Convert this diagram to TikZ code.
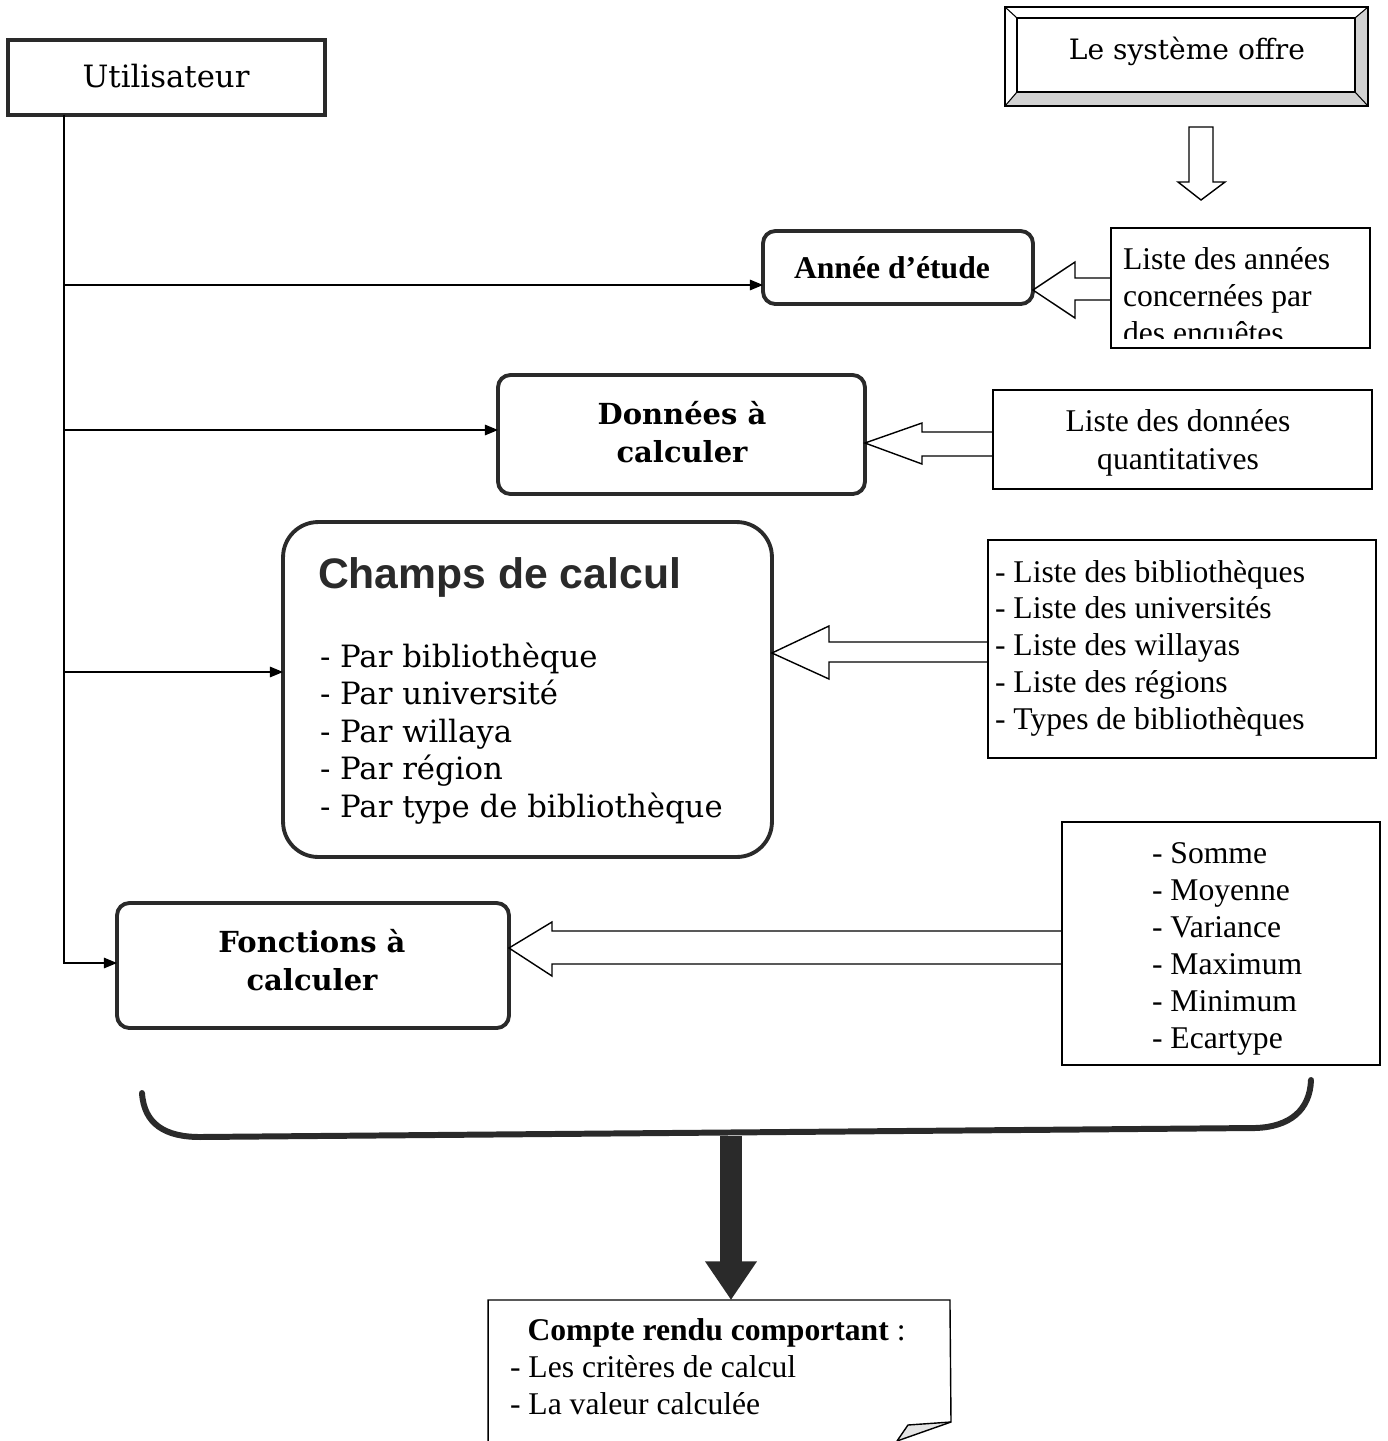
\documentclass[tikz,border=0pt]{standalone}
\usepackage{fontspec}
\setmainfont{Liberation Serif}
\newfontfamily\bkfont{DejaVu Serif}
\newfontfamily\arfont{Liberation Sans}
\usetikzlibrary{arrows.meta,calc}
\definecolor{ink}{HTML}{2A2A2A}
\definecolor{bevel}{HTML}{D2D2D2}

\begin{document}
\begin{tikzpicture}[x=0.02cm,y=-0.02cm,
  every node/.style={inner sep=0pt, outer sep=0pt},
  thickbox/.style={draw=ink, line width=2.2pt, rounded corners=7pt},
  listbox/.style={draw=black, line width=0.8pt},
  conn/.style={draw=black, line width=0.8pt, -{Triangle[length=7.5pt,width=6pt]}},
  hollow/.style={draw=black, line width=0.8pt, line join=miter},
  tm/.style={font=\fontsize{18}{21}\selectfont},
  tmb/.style={font=\bfseries\fontsize{18}{21}\selectfont},
  bk/.style={font=\bkfont\fontsize{17.5}{21.3}\selectfont},
  bkb/.style={font=\bkfont\bfseries\fontsize{16.5}{21.6}\selectfont},
]
\useasboundingbox (0,0) rectangle (1388,1441);

% ---- user box
\node[draw=ink, line width=2.6pt, minimum width=6.34cm, minimum height=1.5cm] (user) at (166.5,77.5) {};
\node[bk] (usertxt) at (166,76) {Utilisateur};

% ---- bevelled system box
\fill[bevel] (1005,106) -- (1017,92) -- (1355,92) -- (1368,106) -- cycle;
\fill[bevel] (1355,92) -- (1355,18) -- (1368,7) -- (1368,106) -- cycle;
\node[draw=black, line width=0.8pt, minimum width=6.76cm, minimum height=1.48cm] (sys) at (1186,55) {};
\draw[line width=1pt] (1005,7) rectangle (1368,106);
\draw[line width=0.6pt] (1005,7) -- (sys.north west) (1368,7) -- (sys.north east)
  (1005,106) -- (sys.south west) (1368,106) -- (sys.south east);
\node[bk, font=\bkfont\fontsize{16}{20}\selectfont] (systxt) at (1187,51) {Le système offre};

% hollow arrow under the system box
\draw[hollow] (1189,127) -- (1213,127) -- (1213,182) -- (1225,182) -- (1201,200)
  -- (1178,182) -- (1189,182) -- cycle;

% ---- main boxes
\node[thickbox, minimum width=5.4cm, minimum height=1.46cm] (annee) at (898,267.5) {};
\node[tmb] (anneetxt) at (892,268) {Année d'étude};

\node[thickbox, minimum width=7.34cm, minimum height=2.38cm] (don) at (681.5,434.5) {};
\node[bkb, align=center] (dontxt) at (682,432) {Données à\\calculer};

\node[thickbox, rounded corners=20pt, minimum width=9.78cm, minimum height=6.7cm] (champs) at (527.5,689.5) {};
\node[font=\arfont\bfseries\fontsize{24.3}{28}\selectfont, text=ink, anchor=north west] (champstitle) at (318,558) {Champs de calcul};
\node[bk, anchor=north west, align=left] (champsitems) at (320,643)
  {- Par bibliothèque\\- Par université\\- Par willaya\\- Par région\\- Par type de bibliothèque};

\node[thickbox, minimum width=7.84cm, minimum height=2.5cm] (fon) at (313,965.5) {};
\node[bkb, align=center] (fontxt) at (312,960) {Fonctions à\\calculer};

% ---- list boxes
\node[listbox, minimum width=5.18cm, minimum height=2.4cm] (lann) at (1240.5,288) {};
\begin{scope}
  \clip (1111,228) rectangle (1370,338);
  \node[tm, anchor=north west, align=left] (lanntxt) at (1123,248)
    {Liste des années\\concernées par\\des enquêtes};
\end{scope}

\node[listbox, minimum width=7.58cm, minimum height=1.98cm] (ldon) at (1182.5,439.5) {};
\node[tm, align=center, font=\fontsize{18}{22}\selectfont] (ldontxt) at (1178,443) {Liste des données\\quantitatives};

\node[listbox, minimum width=7.76cm, minimum height=4.36cm] (lch) at (1182,649) {};
\node[tm, anchor=north west, align=left] (lchtxt) at (995,560)
  {- Liste des bibliothèques\\- Liste des universités\\- Liste des willayas\\- Liste des régions\\- Types de bibliothèques};

\node[listbox, minimum width=6.36cm, minimum height=4.86cm] (lfo) at (1221,943.5) {};
\node[tm, anchor=north west, align=left] (lfotxt) at (1152,843)
  {- Somme\\- Moyenne\\- Variance\\- Maximum\\- Minimum\\- Ecartype};

% ---- hollow arrows from the lists to the boxes
\draw[hollow] (lann.west |- 0,278) -- (1075,278) -- (1075,262) -- (annee.east |- 0,290)
  -- (1075,318) -- (1075,300) -- (lann.west |- 0,300);
\draw[hollow] (ldon.west |- 0,432) -- (922,432) -- (922,423) -- (don.east |- 0,443)
  -- (922,464) -- (922,456) -- (ldon.west |- 0,456);
\draw[hollow] (lch.west |- 0,642) -- (829,642) -- (829,626) -- (champs.east |- 0,653)
  -- (829,679) -- (829,662) -- (lch.west |- 0,662);
\draw[hollow] (lfo.west |- 0,931) -- (552,931) -- (552,922) -- (fon.east |- 0,948)
  -- (552,976) -- (552,964) -- (lfo.west |- 0,964);

% ---- connectors from the user
\coordinate (trunk) at ($(user.south west)+(56,0)$);
\coordinate (fonin) at (fon.west |- 0,963);
\draw[conn] (trunk) |- (fonin);
\draw[conn] (trunk |- 0,285) -- (annee.west |- 0,285);
\draw[conn] (trunk |- 0,430) -- (don.west |- 0,430);
\draw[conn] (trunk |- 0,672) -- (champs.west |- 0,672);

% ---- brace and result
\draw[ink, line width=3.4pt, line cap=round]
  (142,1093) .. controls (144,1124) and (165,1137) .. (200,1137)
  -- (1255,1128) .. controls (1290,1127) and (1310,1110) .. (1311,1080);

\node[minimum width=9.24cm, minimum height=2.82cm] (compte) at (719,1370.5) {};
\coordinate (res) at (731,1136);
\draw[ink, line width=12pt, -{Triangle[length=22pt,width=28pt]}] (res) -- (res |- compte.north);

\fill[bevel!60] (951,1422) -- (908,1425) -- (897,1441) -- cycle;
\draw[listbox, line join=miter] (compte.south west) -- (compte.north west) -- (compte.north east)
  -- (951,1422) -- (908,1425) -- (897,1441);
\draw[listbox] (951,1422) -- (897,1441);
\node[tm, anchor=north west, align=left] (comptetxt) at (510,1319)
  {\hspace*{10pt}\textbf{Compte rendu comportant} :\\- Les critères de calcul\\- La valeur calculée};

\end{tikzpicture}
\end{document}
